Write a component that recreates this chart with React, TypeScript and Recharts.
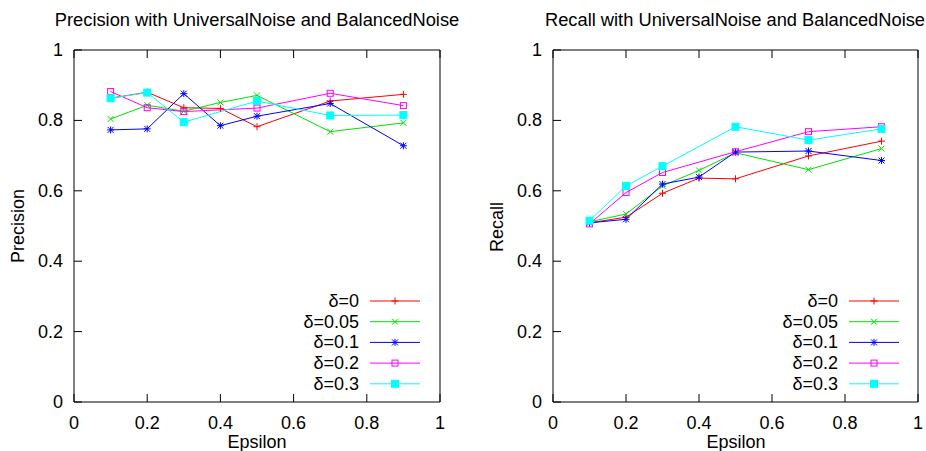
import { LineChart, Line, XAxis, YAxis, Legend } from "recharts"

const epsilons = [0.1, 0.2, 0.3, 0.4, 0.5, 0.7, 0.9]
const deltaNames = ["δ=0", "δ=0.05", "δ=0.1", "δ=0.2", "δ=0.3"]
const axisTicks = [0, 0.2, 0.4, 0.6, 0.8, 1]

// precision, one list per delta (null = no point at that epsilon)
const precisionD0 = [0.863, 0.88, 0.836, 0.834, 0.782, 0.855, 0.874]
const precisionD005 = [0.804, 0.843, 0.826, 0.851, 0.871, 0.768, 0.793]
const precisionD01 = [0.773, 0.776, 0.876, 0.785, 0.812, 0.848, 0.728]
const precisionD02 = [0.882, 0.836, 0.825, null, 0.835, 0.877, 0.842]
const precisionD03 = [0.863, 0.879, 0.795, null, 0.855, 0.814, 0.815]

// recall
const recallD0 = [0.509, 0.525, 0.593, 0.636, 0.634, 0.699, 0.741]
const recallD005 = [0.512, 0.534, 0.614, 0.658, 0.708, 0.66, 0.72]
const recallD01 = [0.509, 0.519, 0.619, 0.639, 0.71, 0.713, 0.686]
const recallD02 = [0.506, 0.595, 0.652, null, 0.711, 0.768, 0.782]
const recallD03 = [0.515, 0.614, 0.67, null, 0.782, 0.744, 0.776]

const colors = ["#ff0000", "#00e000", "#0000ff", "#ff00ff", "#00ffff"]
const shapes = ["plus", "cross", "star", "square", "filled"]

const font = "'Liberation Sans', Arial, Helvetica, sans-serif"

function makeRows(series: (number | null)[][]) {
    return epsilons.map((eps, i) => {
        const row: Record<string, number | null> = { eps }
        series.forEach((s, k) => { row["s" + k] = s[i] })
        return row
    })
}

const precisionRows = makeRows([precisionD0, precisionD005, precisionD01, precisionD02, precisionD03])
const recallRows = makeRows([recallD0, recallD005, recallD01, recallD02, recallD03])

function Marker({ shape, color, cx, cy }: { shape: string, color: string, cx: number, cy: number }) {
    const r = 3.5
    const d = 3
    const plus = <>
        <line x1={cx - r} x2={cx + r} y1={cy} y2={cy} />
        <line x1={cx} x2={cx} y1={cy - r} y2={cy + r} />
    </>
    const cross = <>
        <line x1={cx - d} x2={cx + d} y1={cy - d} y2={cy + d} />
        <line x1={cx - d} x2={cx + d} y1={cy + d} y2={cy - d} />
    </>
    if (shape === "plus") return <g stroke={color}>{plus}</g>
    if (shape === "cross") return <g stroke={color}>{cross}</g>
    if (shape === "star") return <g stroke={color}>{plus}{cross}</g>
    if (shape === "square") return <rect x={cx - 3} y={cy - 3} width={6} height={6} fill="none" stroke={color} />
    return <rect x={cx - 3.5} y={cy - 3.5} width={7} height={7} fill={color} stroke={color} />
}

const BottomTick = (p: any) => (
    <g>
        <line x1={p.x} x2={p.x} y1={p.y} y2={p.y - 8} stroke="#000" />
        <text x={p.x} y={p.y + 21} textAnchor="middle" dominantBaseline="central" fontSize={18} fontFamily={font} fill="#000">
            {String(p.payload.value)}
        </text>
    </g>
)
const TopTick = (p: any) => <line x1={p.x} x2={p.x} y1={p.y} y2={p.y + 8} stroke="#000" />
const LeftTick = (p: any) => (
    <g>
        <line x1={p.x} x2={p.x + 8} y1={p.y} y2={p.y} stroke="#000" />
        <text x={p.x - 11} y={p.y} textAnchor="end" dominantBaseline="central" fontSize={18} fontFamily={font} fill="#000">
            {String(p.payload.value)}
        </text>
    </g>
)
const RightTick = (p: any) => <line x1={p.x} x2={p.x - 8} y1={p.y} y2={p.y} stroke="#000" />

function LegendBox() {
    return (
        <svg width={180} height={110} style={{ display: "block" }}>
            {deltaNames.map((name, k) => {
                const y = 13 + k * 20.7
                return (
                    <g key={name}>
                        <text x={109} y={y} textAnchor="end" dominantBaseline="central" fontSize={18} fontFamily={font} fill="#000">{name}</text>
                        <line x1={120} x2={170} y1={y} y2={y} stroke={colors[k]} />
                        <Marker shape={shapes[k]} color={colors[k]} cx={145} cy={y} />
                    </g>
                )
            })}
        </svg>
    )
}

function Panel({ rows, left, right, legendLeft }: { rows: any[], left: number, right: number, legendLeft: number }) {
    return (
        <LineChart width={463} height={451} data={rows} margin={{ top: 49, right: right - 1, bottom: 48, left: left - 1 }}>
            <XAxis dataKey="eps" type="number" domain={[0, 1]} ticks={axisTicks} interval={0} height={1}
                tickSize={0} tickMargin={0} tickLine={false} tick={BottomTick} axisLine={{ stroke: "#000" }} />
            <XAxis xAxisId="top" orientation="top" dataKey="eps" type="number" domain={[0, 1]} ticks={axisTicks} interval={0} height={1}
                tickSize={0} tickMargin={0} tickLine={false} tick={TopTick} axisLine={{ stroke: "#000" }} />
            <YAxis type="number" domain={[0, 1]} ticks={axisTicks} interval={0} width={1}
                tickSize={0} tickMargin={0} tickLine={false} tick={LeftTick} axisLine={{ stroke: "#000" }} />
            <YAxis yAxisId="r" orientation="right" type="number" domain={[0, 1]} ticks={axisTicks} interval={0} width={1}
                tickSize={0} tickMargin={0} tickLine={false} tick={RightTick} axisLine={{ stroke: "#000" }} />
            {deltaNames.map((name, k) => (
                <Line key={name} name={name} dataKey={"s" + k} stroke={colors[k]} strokeWidth={1} connectNulls
                    isAnimationActive={false}
                    dot={(p: any) => (p.cx == null || p.cy == null || p.value == null)
                        ? <g key={k + "-" + p.index} />
                        : <Marker key={k + "-" + p.index} shape={shapes[k]} color={colors[k]} cx={p.cx} cy={p.cy} />}
                    activeDot={false} />
            ))}
            <Legend layout="vertical" align="center" verticalAlign="middle" content={() => <LegendBox />}
                wrapperStyle={{ left: legendLeft, top: 288, width: 180, height: 110 }} />
        </LineChart>
    )
}

const textStyle: React.CSSProperties = {
    position: "absolute", fontFamily: font, color: "#000", whiteSpace: "nowrap",
    transform: "translate(-50%, -50%)", lineHeight: 1,
}

export default function App() {
    return (
        <div style={{ position: "absolute", left: 0, top: 0, width: 926, height: 451, background: "#fff", overflow: "hidden" }}>
            <div style={{ position: "absolute", left: 0, top: 0 }}>
                <Panel rows={precisionRows} left={74} right={23} legendLeft={250} />
            </div>
            <div style={{ position: "absolute", left: 463, top: 0 }}>
                <Panel rows={recallRows} left={90} right={8} legendLeft={266} />
            </div>
            <div style={{ ...textStyle, left: 257, top: 20, fontSize: 18.3 }}>Precision with UniversalNoise and BalancedNoise</div>
            <div style={{ ...textStyle, left: 735, top: 20, fontSize: 18.3 }}>Recall with UniversalNoise and BalancedNoise</div>
            <div style={{ ...textStyle, left: 257, top: 442, fontSize: 18 }}>Epsilon</div>
            <div style={{ ...textStyle, left: 736, top: 442, fontSize: 18 }}>Epsilon</div>
            <div style={{ ...textStyle, left: 18, top: 226, fontSize: 18, transform: "translate(-50%, -50%) rotate(-90deg)" }}>Precision</div>
            <div style={{ ...textStyle, left: 497, top: 227, fontSize: 18, transform: "translate(-50%, -50%) rotate(-90deg)" }}>Recall</div>
        </div>
    )
}
